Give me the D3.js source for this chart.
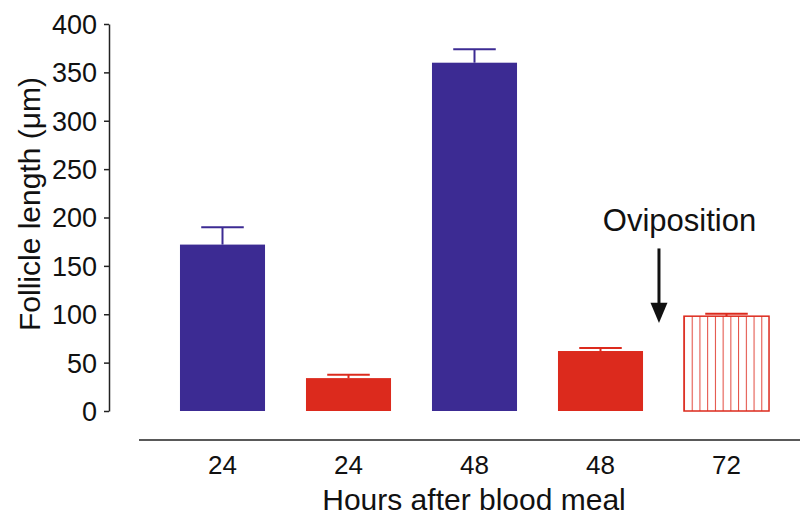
<!DOCTYPE html>
<html>
<head>
<meta charset="utf-8">
<script src="https://cdn.jsdelivr.net/npm/d3@7"></script>
<style>
  html, body { margin: 0; padding: 0; background: #fff; }
  svg { display: block; font-family: "Liberation Sans", Arial, Helvetica, sans-serif; }
</style>
</head>
<body>
<svg id="chart" width="800" height="516"></svg>
<script>
// Follicle length by time after the blood meal (mean + SEM)
const categories = ["24", "24", "48", "48", "72"];
const means = [172, 34, 360, 62, 98];
const sem = [18, 3.5, 14, 3, 2.5];
const groups = ["A", "B", "A", "B", "C"];   // C = after oviposition
const yTicks = [0, 50, 100, 150, 200, 250, 300, 350, 400];

const blue = "#3c2b93";
const red = "#dc2a1d";

const svg = d3.select("#chart");

const y = d3.scaleLinear().domain([0, 400]).range([411, 24]);
const x = d3.scaleBand()
  .domain(d3.range(categories.length))
  .range([159.5, 789.5])
  .paddingInner(0.325)
  .paddingOuter(0.1625);

const colorOf = d3.scaleOrdinal().domain(["A", "B", "C"]).range([blue, red, red]);

// hatch pattern for the post-oviposition bar
const defs = svg.append("defs");
const pat = defs.append("pattern")
  .attr("id", "vhatch")
  .attr("patternUnits", "userSpaceOnUse")
  .attr("x", x(4))
  .attr("width", x.bandwidth() / 11)
  .attr("height", 10);
pat.append("rect").attr("width", x.bandwidth() / 11).attr("height", 10).attr("fill", "#fff");
pat.append("line")
  .attr("x1", 0.5).attr("x2", 0.5).attr("y1", 0).attr("y2", 10)
  .attr("stroke", "#e2473c").attr("stroke-width", 1);

// y axis
const yAxis = d3.axisLeft(y).tickValues(yTicks).tickSize(5).tickPadding(7).tickSizeOuter(0);
const gy = svg.append("g").attr("transform", "translate(109,0)").call(yAxis);
gy.select(".domain").attr("stroke", "#222").attr("stroke-width", 1.5);
gy.selectAll(".tick line").attr("stroke", "#222").attr("stroke-width", 1.5);
gy.selectAll(".tick text").attr("font-size", 27).attr("fill", "#111")
  .attr("font-family", "Liberation Sans, Arial, sans-serif").attr("dy", "0.35em");

// x axis (category labels under a free-standing baseline)
const xAxis = d3.axisBottom(x).tickFormat(i => categories[i]).tickSize(0).tickPadding(16);
const gx = svg.append("g").attr("transform", "translate(0,440)").call(xAxis);
gx.select(".domain").remove();
gx.selectAll(".tick text").attr("font-size", 26).attr("fill", "#111")
  .attr("font-family", "Liberation Sans, Arial, sans-serif");
svg.append("line")
  .attr("x1", 139).attr("x2", 800).attr("y1", 440).attr("y2", 440)
  .attr("stroke", "#222").attr("stroke-width", 1.5);

// error bars
const capHalf = x.bandwidth() / 4;
const eb = svg.append("g").selectAll("g").data(means).join("g");
eb.append("line")
  .attr("x1", (d, i) => x(i) + x.bandwidth() / 2)
  .attr("x2", (d, i) => x(i) + x.bandwidth() / 2)
  .attr("y1", d => y(d))
  .attr("y2", (d, i) => y(d + sem[i]))
  .attr("stroke", (d, i) => colorOf(groups[i])).attr("stroke-width", 2);
eb.append("line")
  .attr("x1", (d, i) => x(i) + x.bandwidth() / 2 - capHalf)
  .attr("x2", (d, i) => x(i) + x.bandwidth() / 2 + capHalf)
  .attr("y1", (d, i) => y(d + sem[i]))
  .attr("y2", (d, i) => y(d + sem[i]))
  .attr("stroke", (d, i) => colorOf(groups[i])).attr("stroke-width", 2);

// bars
svg.append("g").selectAll("rect").data(means).join("rect")
  .attr("x", (d, i) => x(i))
  .attr("y", d => y(d))
  .attr("width", x.bandwidth())
  .attr("height", d => y(0) - y(d))
  .attr("fill", (d, i) => groups[i] === "C" ? "url(#vhatch)" : colorOf(groups[i]))
  .attr("stroke", (d, i) => groups[i] === "C" ? red : "none")
  .attr("stroke-width", 1.5);

// oviposition annotation
const arrowX = x(4) - 25;
svg.append("text")
  .attr("x", x(4) + x.bandwidth() / 2 - 47)
  .attr("y", y(186))
  .attr("text-anchor", "middle")
  .attr("font-size", 31).attr("fill", "#111")
  .text("Oviposition");
svg.append("line")
  .attr("x1", arrowX).attr("x2", arrowX)
  .attr("y1", y(168)).attr("y2", y(111))
  .attr("stroke", "#111").attr("stroke-width", 3);
svg.append("path")
  .attr("d", `M${arrowX - 8.5},${y(112)} L${arrowX + 8.5},${y(112)} L${arrowX},${y(91)} Z`)
  .attr("fill", "#111");

// axis titles
svg.append("text")
  .attr("x", 474).attr("y", 510)
  .attr("text-anchor", "middle")
  .attr("font-size", 30).attr("fill", "#111")
  .text("Hours after blood meal");
svg.append("text")
  .attr("transform", "translate(40,204) rotate(-90)")
  .attr("text-anchor", "middle")
  .attr("font-size", 30).attr("fill", "#111")
  .text("Follicle length (μm)");
</script>
</body>
</html>
